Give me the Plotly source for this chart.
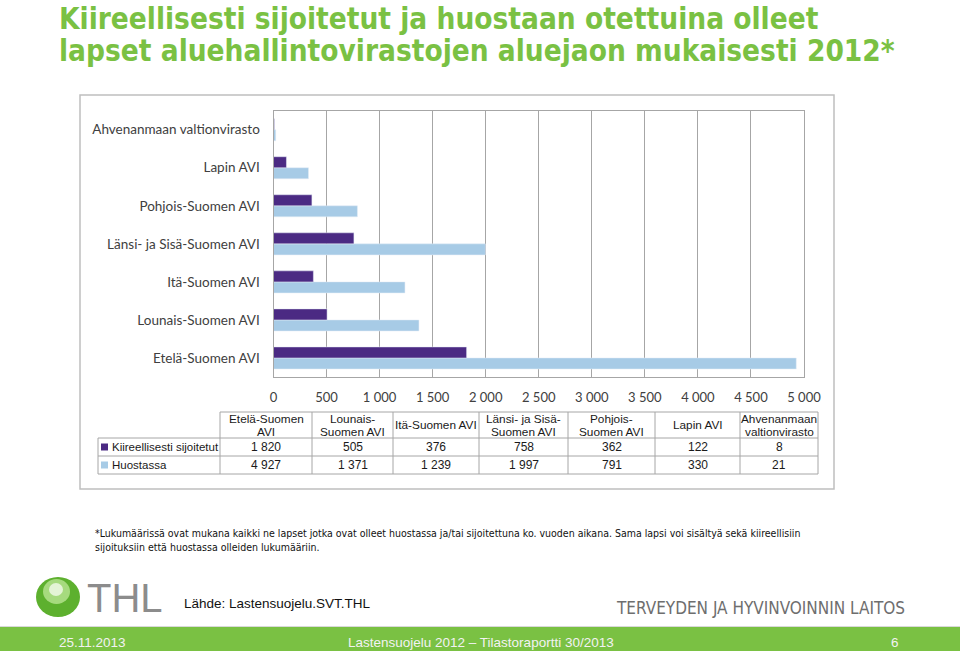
import plotly.graph_objects as go

# Data
categories = ["Etelä-Suomen AVI", "Lounais-Suomen AVI", "Itä-Suomen AVI",
              "Länsi- ja Sisä-Suomen AVI", "Pohjois-Suomen AVI", "Lapin AVI",
              "Ahvenanmaan valtionvirasto"]
table_headers = ["Etelä-Suomen<br>AVI", "Lounais-<br>Suomen AVI", "Itä-Suomen AVI",
                 "Länsi- ja Sisä-<br>Suomen AVI", "Pohjois-<br>Suomen AVI", "Lapin AVI",
                 "Ahvenanmaan<br>valtionvirasto"]
kiireelliset = [1820, 505, 376, 758, 362, 122, 8]
huostassa = [4927, 1371, 1239, 1997, 791, 330, 21]
series_names = ["Kiireellisesti sijoitetut", "Huostassa"]

DARK = "#4B2A83"
LIGHT = "#A7CBE6"
GREEN = "#7AC143"
W, H = 960, 651


def X(px):
    return px / W


def Y(py):
    return 1 - py / H


def fmt(v):
    return f"{v:,}".replace(",", " ")


fig = go.Figure()
# light series first so the dark bar sits above it in each group
fig.add_trace(go.Bar(y=categories, x=huostassa, orientation="h", name=series_names[1],
                     marker_color=LIGHT, hoverinfo="x+y"))
fig.add_trace(go.Bar(y=categories, x=kiireelliset, orientation="h", name=series_names[0],
                     marker_color=DARK, hoverinfo="x+y"))

fig.update_layout(
    width=W, height=H,
    margin=dict(l=0, r=0, t=0, b=0),
    paper_bgcolor="white", plot_bgcolor="white",
    barmode="group", bargap=0.42, bargroupgap=0,
    showlegend=False,
    separators=", ",
    font=dict(family="Lato, Open Sans, sans-serif", color="#404040"),
)
fig.update_xaxes(domain=[X(273.5), X(804)], range=[0, 5000], dtick=500, tickformat=",d",
                 showgrid=True, gridcolor="#A6A6A6", gridwidth=1,
                 showline=True, linecolor="#A6A6A6", mirror=True,
                 zeroline=False, tickfont=dict(size=13, color="#404040"),
                 ticklabelstandoff=8, fixedrange=True, automargin=False)
fig.update_yaxes(domain=[Y(377), Y(110.7)], showline=True, linecolor="#A6A6A6", mirror=True,
                 showgrid=False, tickfont=dict(size=13.5, color="#404040"),
                 ticklabelstandoff=10, fixedrange=True, automargin=False)

shapes = []
ann = []

# chart frame
shapes.append(dict(type="rect", xref="paper", yref="paper", x0=X(80), x1=X(834),
                   y0=Y(489), y1=Y(95), line=dict(color="#BFBFBF", width=1.5)))

# data table
col_x = [220, 312, 393, 479, 568, 655, 740, 818]
row_y = [412, 438, 456, 474]
tcol = "#A6A6A6"
shapes.append(dict(type="line", xref="paper", yref="paper", x0=X(col_x[0]), x1=X(col_x[-1]),
                   y0=Y(row_y[0]), y1=Y(row_y[0]), line=dict(color=tcol, width=1)))
for ry in row_y[1:]:
    shapes.append(dict(type="line", xref="paper", yref="paper", x0=X(98), x1=X(col_x[-1]),
                       y0=Y(ry), y1=Y(ry), line=dict(color=tcol, width=1)))
shapes.append(dict(type="line", xref="paper", yref="paper", x0=X(98), x1=X(98),
                   y0=Y(row_y[1]), y1=Y(row_y[-1]), line=dict(color=tcol, width=1)))
for cx in col_x:
    shapes.append(dict(type="line", xref="paper", yref="paper", x0=X(cx), x1=X(cx),
                       y0=Y(row_y[0]), y1=Y(row_y[-1]), line=dict(color=tcol, width=1)))

tfont = dict(family="Liberation Sans, Arial, sans-serif", size=12, color="#1a1a1a")
for i, head in enumerate(table_headers):
    cx = (col_x[i] + col_x[i + 1]) / 2
    parts = head.split("<br>")
    if len(parts) == 1:
        ys = [(row_y[0] + row_y[1]) / 2]
    else:
        ys = [row_y[0] + 7, row_y[0] + 19.5]
    for part, yy in zip(parts, ys):
        ann.append(dict(x=X(cx), y=Y(yy), text=part, showarrow=False,
                        xanchor="center", yanchor="middle", font=dict(tfont, size=11.8)))
    ann.append(dict(x=X(cx), y=Y((row_y[1] + row_y[2]) / 2), text=fmt(kiireelliset[i]),
                    showarrow=False, xanchor="center", yanchor="middle", font=tfont))
    ann.append(dict(x=X(cx), y=Y((row_y[2] + row_y[3]) / 2), text=fmt(huostassa[i]),
                    showarrow=False, xanchor="center", yanchor="middle", font=tfont))

for r, (name, col) in enumerate(zip(series_names, [DARK, LIGHT])):
    cy = (row_y[r + 1] + row_y[r + 2]) / 2
    shapes.append(dict(type="rect", xref="paper", yref="paper", x0=X(101), x1=X(108),
                       y0=Y(cy + 3.5), y1=Y(cy - 3.5), fillcolor=col, line=dict(width=0)))
    ann.append(dict(x=X(110), y=Y(cy), text=name, showarrow=False, xanchor="left",
                    yanchor="middle", font=dict(tfont, size=11.5)))

# title
narrow = "DejaVu Sans Condensed, Liberation Sans Narrow, Arial Narrow, sans-serif"
title_lines = ["Kiireellisesti sijoitetut ja huostaan otettuina olleet",
               "lapset aluehallintovirastojen aluejaon mukaisesti 2012*"]
for k, line in enumerate(title_lines):
    ann.append(dict(x=X(57), y=Y(19 + 32 * k), text=f"<b>{line}</b>", showarrow=False,
                    xanchor="left", yanchor="middle",
                    font=dict(family=narrow, size=29.5, color=GREEN)))

# footnote
foot = ["*Lukumäärissä ovat mukana kaikki ne lapset jotka ovat olleet huostassa ja/tai sijoitettuna ko. vuoden aikana. Sama lapsi voi sisältyä sekä kiireellisiin",
        "sijoituksiin että huostassa olleiden lukumääriin."]
for k, line in enumerate(foot):
    ann.append(dict(x=X(93), y=Y(533 + 13.5 * k), text=line, showarrow=False,
                    xanchor="left", yanchor="middle",
                    font=dict(family=narrow, size=10.5, color="#111111")))

# THL logo
shapes.append(dict(type="circle", xref="paper", yref="paper", x0=X(36), x1=X(80),
                   y0=Y(617), y1=Y(577), fillcolor="#5DB02E", line=dict(width=0)))
shapes.append(dict(type="circle", xref="paper", yref="paper", x0=X(43), x1=X(70),
                   y0=Y(604), y1=Y(579), fillcolor="#A6DA7E", line=dict(width=0)))
shapes.append(dict(type="circle", xref="paper", yref="paper", x0=X(49), x1=X(63),
                   y0=Y(596), y1=Y(583), fillcolor="#E4F4D6", line=dict(width=0)))
ann.append(dict(x=X(85), y=Y(598), text="THL", showarrow=False, xanchor="left",
                yanchor="middle", font=dict(family="Liberation Sans, Arial, sans-serif",
                                            size=40, color="#8C8C8C")))
ann.append(dict(x=X(182), y=Y(603), text="Lähde: Lastensuojelu.SVT.THL", showarrow=False,
                xanchor="left", yanchor="middle",
                font=dict(family="Liberation Sans, Arial, sans-serif", size=13.5, color="#111111")))
ann.append(dict(x=X(907), y=Y(608), text="TERVEYDEN JA HYVINVOINNIN LAITOS", showarrow=False,
                xanchor="right", yanchor="middle",
                font=dict(family=narrow, size=17, color="#6E6E6E")))

# bottom bar
shapes.append(dict(type="rect", xref="paper", yref="paper", x0=0, x1=1, y0=0, y1=Y(627),
                   fillcolor=GREEN, line=dict(width=0)))
shapes.append(dict(type="line", xref="paper", yref="paper", x0=0, x1=1, y0=Y(626.5),
                   y1=Y(626.5), line=dict(color="#D9D9D9", width=1)))
bfont = dict(family="Liberation Sans, Arial, sans-serif", size=13.5, color="#F2F2F2")
ann.append(dict(x=X(57), y=Y(642), text="25.11.2013", showarrow=False, xanchor="left",
                yanchor="middle", font=bfont))
ann.append(dict(x=X(481), y=Y(642), text="Lastensuojelu 2012 – Tilastoraportti 30/2013",
                showarrow=False, xanchor="center", yanchor="middle", font=bfont))
ann.append(dict(x=X(901), y=Y(642), text="6", showarrow=False, xanchor="right",
                yanchor="middle", font=bfont))

for a in ann:
    a.setdefault("xref", "paper")
    a.setdefault("yref", "paper")
fig.update_layout(shapes=shapes, annotations=ann)

fig.write_html("out.html", config={"responsive": False, "displayModeBar": False},
               post_script="document.body.style.margin='0px';document.body.style.overflow='hidden';")
